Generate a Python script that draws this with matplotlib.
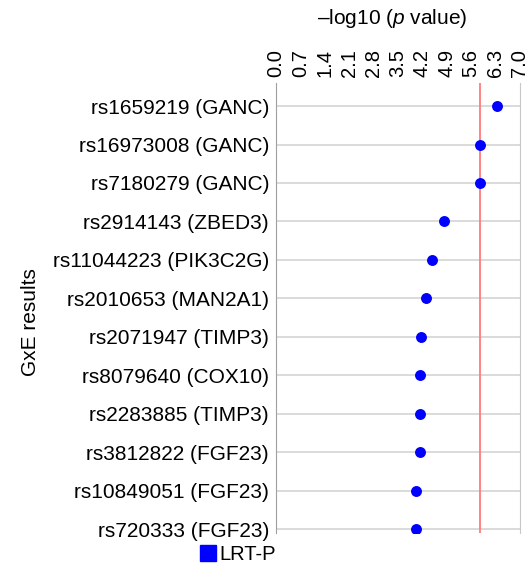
import matplotlib

matplotlib.use("Agg")
import matplotlib.pyplot as plt
from matplotlib.lines import Line2D

plt.rcParams["font.family"] = ["Liberation Sans", "DejaVu Sans"]
plt.rcParams["mathtext.fontset"] = "custom"
plt.rcParams["mathtext.rm"] = "Liberation Sans"
plt.rcParams["mathtext.it"] = "Liberation Sans:italic"

# GxE results, top to bottom
snps = [
    "rs1659219 (GANC)", "rs16973008 (GANC)", "rs7180279 (GANC)", "rs2914143 (ZBED3)",
    "rs11044223 (PIK3C2G)", "rs2010653 (MAN2A1)", "rs2071947 (TIMP3)", "rs8079640 (COX10)",
    "rs2283885 (TIMP3)", "rs3812822 (FGF23)", "rs10849051 (FGF23)", "rs720333 (FGF23)",
]
neglog_p = [6.34, 5.85, 5.85, 4.83, 4.48, 4.29, 4.16, 4.13, 4.13, 4.12, 4.03, 4.02]
threshold = 5.85
xticks = [0.0, 0.7, 1.4, 2.1, 2.8, 3.5, 4.2, 4.9, 5.6, 6.3, 7.0]

FS = 15

fig = plt.figure(figsize=(5.3, 5.66), dpi=100)
ax = fig.add_axes([276 / 530, 1 - 533 / 566, 244 / 530, 450 / 566])

rows = list(range(len(snps)))
for r in rows:
    ax.axhline(r, color="#d4d4d4", linewidth=1.2, zorder=1)
ax.axvline(threshold, color="#ff7b7b", linewidth=1.3, zorder=2)
ax.scatter(neglog_p, rows, s=62, color="#0000ff", zorder=3, linewidths=0)

ax.set_xlim(0, 7.0)
ax.set_ylim(len(snps) - 1 + 0.1, -0.6)
ax.set_yticks(rows)
ax.set_yticklabels(snps, fontsize=FS)
ax.xaxis.tick_top()
ax.set_xticks(xticks)
ax.set_xticklabels([f"{t:.1f}" for t in xticks], rotation=90, fontsize=14.5)
ax.tick_params(axis="y", length=0, pad=5)
ax.tick_params(axis="x", length=0, pad=4)
for side in ("top", "bottom"):
    ax.spines[side].set_visible(False)
ax.spines["left"].set_color("#a0a0a0")
ax.spines["right"].set_color("#c8c8c8")

fig.text(392 / 530, 1 - 18 / 566, "\u2013log10 ($\\mathit{p}$ value)", ha="center", va="center",
         fontsize=FS)
fig.text(30 / 530, 1 - 322 / 566, "GxE results", rotation=90, ha="center", va="center",
         fontsize=FS)

handle = Line2D([], [], marker="s", linestyle="none", color="#0000ff", markersize=11)
fig.legend(handles=[handle], labels=["LRT-P"], loc="center left",
           bbox_to_anchor=(191 / 530, 1 - 555 / 566), frameon=False, fontsize=14.5,
           handlelength=0.7, handletextpad=0.2, borderpad=0)

fig.savefig("out.png", dpi=100)
